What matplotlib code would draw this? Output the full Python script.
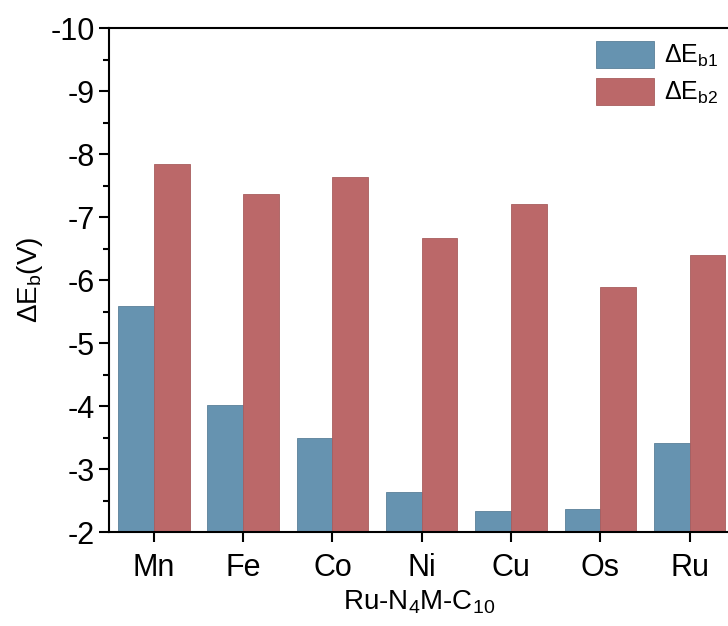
import numpy as np
import matplotlib
matplotlib.use("Agg")
import matplotlib.pyplot as plt
from matplotlib.ticker import MultipleLocator

plt.rcParams['font.family'] = ['Liberation Sans', 'DejaVu Sans']
plt.rcParams['mathtext.fontset'] = 'custom'
plt.rcParams['mathtext.rm'] = 'Liberation Sans'
plt.rcParams['mathtext.it'] = 'Liberation Sans'
plt.rcParams['mathtext.default'] = 'regular'
plt.rcParams['axes.unicode_minus'] = False

# data
metals = ["Mn", "Fe", "Co", "Ni", "Cu", "Os", "Ru"]
eb1 = [-5.59, -4.02, -3.50, -2.64, -2.33, -2.36, -3.41]
eb2 = [-7.84, -7.37, -7.64, -6.67, -7.21, -5.89, -6.40]

blue = "#6693b0"
red = "#bb6869"

fig = plt.figure(figsize=(7.28, 6.26), dpi=100)
ax = fig.add_axes([0.15, 0.15, 0.85, 0.805])

x = np.arange(len(metals))
w = 0.4
base = -2
ax.bar(x - w/2, np.array(eb1) - base, w, bottom=base, color=blue,
       edgecolor="#5a8098", linewidth=0.6, label=r"$\Delta E_{b1}$")
ax.bar(x + w/2, np.array(eb2) - base, w, bottom=base, color=red,
       edgecolor="#a85d5e", linewidth=0.6, label=r"$\Delta E_{b2}$")

ax.set_ylim(-2, -10)
ax.set_xlim(-0.5, 6.43)
ax.yaxis.set_major_locator(MultipleLocator(1))
ax.yaxis.set_minor_locator(MultipleLocator(0.5))
ax.set_xticks(x)
ax.set_xticklabels(metals)

ax.spines['right'].set_visible(False)
for s in ['left', 'bottom', 'top']:
    ax.spines[s].set_linewidth(1.5)
ax.tick_params(axis='both', which='major', direction='out', length=7, width=1.5,
               labelsize=22)
ax.tick_params(axis='y', which='minor', direction='out', length=4, width=1.5)
ax.tick_params(axis='x', pad=8)

ax.set_ylabel(r"$\Delta E_b$(V)", fontsize=20, labelpad=4)
ax.set_xlabel(r"Ru-N$_4$M-C$_{10}$", fontsize=20, labelpad=4)

ax.legend(loc="upper right", bbox_to_anchor=(1.02, 1.02), fontsize=18, frameon=False,
          handlelength=2.3, handleheight=1.3, handletextpad=0.4, labelspacing=0.35)

fig.savefig("out.png", dpi=100)
